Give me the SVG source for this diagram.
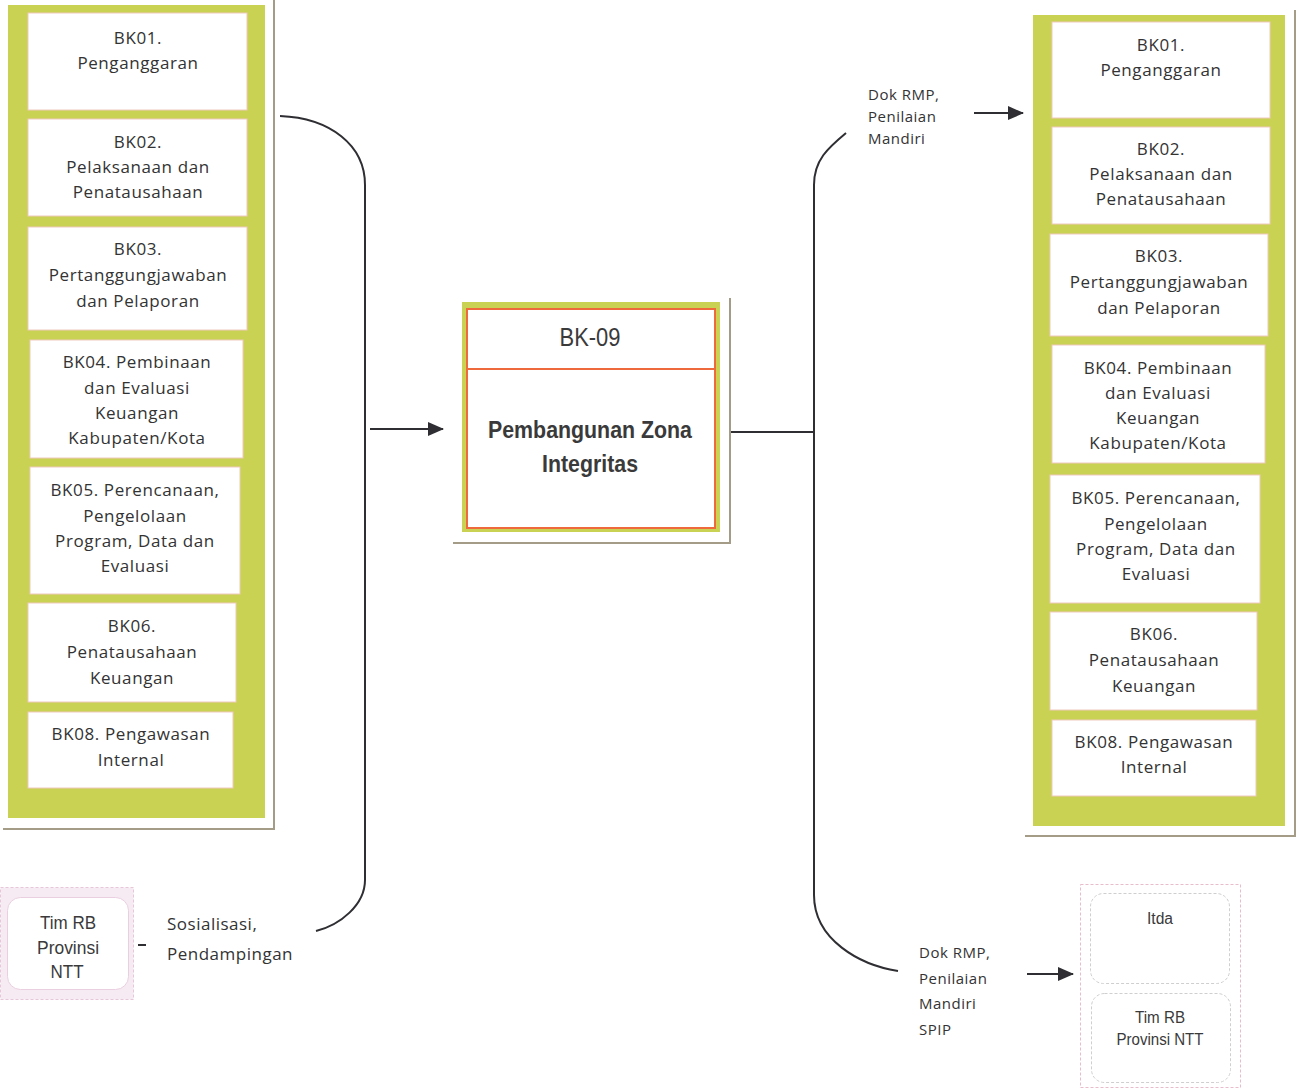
<svg xmlns="http://www.w3.org/2000/svg" width="1299" height="1088" viewBox="0 0 1299 1088">
  <style>
    .panel { fill: #c9d252; }
    .shadow { fill: none; stroke: #a59c88; stroke-width: 2; }
    .item { fill: #ffffff; stroke: #efc9bf; stroke-width: 1; }
    .lbl { font-family: "Open Sans", "Noto Sans", sans-serif; font-size: 17px; letter-spacing: 0.6px; fill: #333333; text-anchor: middle; }
    .note { font-family: "Open Sans", "Noto Sans", sans-serif; font-size: 15px; letter-spacing: 0.5px; fill: #333333; }
    .note2 { font-family: "Open Sans", "Noto Sans", sans-serif; font-size: 17px; letter-spacing: 0.5px; fill: #333333; }
    .narrow { font-family: "Liberation Sans Narrow", "Liberation Sans", Arial, sans-serif; fill: #3a3a3a; text-anchor: middle; }
    .conn { fill: none; stroke: #2e2e33; stroke-width: 2; }
  </style>
  <defs>
    <marker id="arrowL" viewBox="0 0 16 14" refX="15" refY="7" markerWidth="16" markerHeight="14" markerUnits="userSpaceOnUse" orient="auto">
      <path d="M0,0 L16,7 L0,14 z" fill="#2e2e33"/>
    </marker>
  </defs>

  <rect width="1299" height="1088" fill="#ffffff"/>

  <!-- Left column of work units -->
  <g id="left-panel">
    <polyline class="shadow" points="274,0 274,829 3,829"/>
    <rect class="panel" x="8" y="5" width="257" height="813"/>
    <g id="l-bk01">
      <rect class="item" x="28" y="13" width="219" height="97"/>
      <text class="lbl" x="138" y="44">BK01.</text>
      <text class="lbl" x="138" y="69">Penganggaran</text>
    </g>
    <g id="l-bk02">
      <rect class="item" x="28" y="119" width="219" height="97"/>
      <text class="lbl" x="138" y="148">BK02.</text>
      <text class="lbl" x="138" y="173">Pelaksanaan dan</text>
      <text class="lbl" x="138" y="198">Penatausahaan</text>
    </g>
    <g id="l-bk03">
      <rect class="item" x="28" y="227" width="219" height="103"/>
      <text class="lbl" x="138" y="255">BK03.</text>
      <text class="lbl" x="138" y="281">Pertanggungjawaban</text>
      <text class="lbl" x="138" y="307">dan Pelaporan</text>
    </g>
    <g id="l-bk04">
      <rect class="item" x="30" y="340" width="213" height="118"/>
      <text class="lbl" x="137" y="368">BK04. Pembinaan</text>
      <text class="lbl" x="137" y="394">dan Evaluasi</text>
      <text class="lbl" x="137" y="419">Keuangan</text>
      <text class="lbl" x="137" y="444">Kabupaten/Kota</text>
    </g>
    <g id="l-bk05">
      <rect class="item" x="30" y="467" width="210" height="127"/>
      <text class="lbl" x="135" y="496">BK05. Perencanaan,</text>
      <text class="lbl" x="135" y="522">Pengelolaan</text>
      <text class="lbl" x="135" y="547">Program, Data dan</text>
      <text class="lbl" x="135" y="572">Evaluasi</text>
    </g>
    <g id="l-bk06">
      <rect class="item" x="28" y="603" width="208" height="99"/>
      <text class="lbl" x="132" y="632">BK06.</text>
      <text class="lbl" x="132" y="658">Penatausahaan</text>
      <text class="lbl" x="132" y="684">Keuangan</text>
    </g>
    <g id="l-bk08">
      <rect class="item" x="28" y="712" width="205" height="76"/>
      <text class="lbl" x="131" y="740">BK08. Pengawasan</text>
      <text class="lbl" x="131" y="766">Internal</text>
    </g>
  </g>

  <!-- Central activity -->
  <g id="bk09">
    <polyline class="shadow" points="730,298 730,543 453,543"/>
    <rect class="panel" x="462" y="302" width="258" height="230"/>
    <rect x="467" y="309" width="248" height="219" fill="#ffffff" stroke="#ee6a3c" stroke-width="2"/>
    <line x1="467" y1="369" x2="715" y2="369" stroke="#ee6a3c" stroke-width="2"/>
    <text class="narrow" x="590" y="346" font-size="25" textLength="61" lengthAdjust="spacingAndGlyphs">BK-09</text>
    <text class="narrow" x="590" y="438" font-size="24" font-weight="bold" fill="#2e2e2e" textLength="204" lengthAdjust="spacingAndGlyphs">Pembangunan Zona</text>
    <text class="narrow" x="590" y="472" font-size="24" font-weight="bold" fill="#2e2e2e" textLength="96" lengthAdjust="spacingAndGlyphs">Integritas</text>
  </g>

  <!-- Right column of work units -->
  <g id="right-panel">
    <polyline class="shadow" points="1295,10 1295,836 1025,836"/>
    <rect class="panel" x="1033" y="15" width="252" height="811"/>
    <g id="r-bk01">
      <rect class="item" x="1052" y="22" width="218" height="96"/>
      <text class="lbl" x="1161" y="51">BK01.</text>
      <text class="lbl" x="1161" y="76">Penganggaran</text>
    </g>
    <g id="r-bk02">
      <rect class="item" x="1052" y="127" width="218" height="97"/>
      <text class="lbl" x="1161" y="155">BK02.</text>
      <text class="lbl" x="1161" y="180">Pelaksanaan dan</text>
      <text class="lbl" x="1161" y="205">Penatausahaan</text>
    </g>
    <g id="r-bk03">
      <rect class="item" x="1050" y="234" width="218" height="102"/>
      <text class="lbl" x="1159" y="262">BK03.</text>
      <text class="lbl" x="1159" y="288">Pertanggungjawaban</text>
      <text class="lbl" x="1159" y="314">dan Pelaporan</text>
    </g>
    <g id="r-bk04">
      <rect class="item" x="1052" y="345" width="213" height="118"/>
      <text class="lbl" x="1158" y="374">BK04. Pembinaan</text>
      <text class="lbl" x="1158" y="399">dan Evaluasi</text>
      <text class="lbl" x="1158" y="424">Keuangan</text>
      <text class="lbl" x="1158" y="449">Kabupaten/Kota</text>
    </g>
    <g id="r-bk05">
      <rect class="item" x="1050" y="475" width="210" height="128"/>
      <text class="lbl" x="1156" y="504">BK05. Perencanaan,</text>
      <text class="lbl" x="1156" y="530">Pengelolaan</text>
      <text class="lbl" x="1156" y="555">Program, Data dan</text>
      <text class="lbl" x="1156" y="580">Evaluasi</text>
    </g>
    <g id="r-bk06">
      <rect class="item" x="1050" y="612" width="207" height="98"/>
      <text class="lbl" x="1154" y="640">BK06.</text>
      <text class="lbl" x="1154" y="666">Penatausahaan</text>
      <text class="lbl" x="1154" y="692">Keuangan</text>
    </g>
    <g id="r-bk08">
      <rect class="item" x="1052" y="720" width="204" height="76"/>
      <text class="lbl" x="1154" y="748">BK08. Pengawasan</text>
      <text class="lbl" x="1154" y="773">Internal</text>
    </g>
  </g>

  <!-- Provincial RB team (source) -->
  <g id="tim-rb-left">
    <rect x="0.5" y="887.5" width="133" height="112" fill="#f6ebf2" stroke="#e6c6d8" stroke-width="1" stroke-dasharray="3 2"/>
    <rect x="7.5" y="897.5" width="121" height="92" rx="13" fill="#ffffff" stroke="#eacfe0" stroke-width="1"/>
    <text class="narrow" x="68" y="929" font-size="19" textLength="56" lengthAdjust="spacingAndGlyphs">Tim RB</text>
    <text class="narrow" x="68" y="954" font-size="19" textLength="62" lengthAdjust="spacingAndGlyphs">Provinsi</text>
    <text class="narrow" x="67" y="978" font-size="19" textLength="33" lengthAdjust="spacingAndGlyphs">NTT</text>
  </g>

  <!-- Recipients of the review documents -->
  <g id="reviewers">
    <rect x="1080.5" y="884.5" width="160" height="203" fill="#ffffff" stroke="#e9bccd" stroke-width="1" stroke-dasharray="3 2"/>
    <g id="itda">
      <rect x="1090.5" y="893.5" width="139" height="90" rx="13" fill="#ffffff" stroke="#cfcfcf" stroke-width="1" stroke-dasharray="3 2"/>
      <text class="narrow" x="1160" y="924" font-size="16" textLength="26" lengthAdjust="spacingAndGlyphs">Itda</text>
    </g>
    <g id="tim-rb-right">
      <rect x="1091.5" y="993.5" width="139" height="89" rx="13" fill="#ffffff" stroke="#cfcfcf" stroke-width="1" stroke-dasharray="3 2"/>
      <text class="narrow" x="1160" y="1023" font-size="16" textLength="50" lengthAdjust="spacingAndGlyphs">Tim RB</text>
      <text class="narrow" x="1160" y="1045" font-size="16" textLength="87" lengthAdjust="spacingAndGlyphs">Provinsi NTT</text>
    </g>
  </g>

  <!-- Connectors and their labels -->
  <g id="connectors">
    <path class="conn" d="M280,116 C330,118 365,145 365,185 L365,880 C365,905 340,925 316,931"/>
    <line class="conn" x1="370" y1="429" x2="443" y2="429" marker-end="url(#arrowL)"/>
    <line class="conn" x1="731" y1="432" x2="814" y2="432"/>
    <path class="conn" d="M846,133 C828,148 814,160 814,185 L814,895 C814,940 860,965 898,971"/>
    <line class="conn" x1="974" y1="113" x2="1023" y2="113" marker-end="url(#arrowL)"/>
    <line class="conn" x1="1027" y1="974" x2="1073" y2="974" marker-end="url(#arrowL)"/>
    <line x1="138" y1="945" x2="146" y2="945" stroke="#2e2e33" stroke-width="2"/>
    <text class="note" x="868" y="100">Dok RMP,</text>
    <text class="note" x="868" y="122">Penilaian</text>
    <text class="note" x="868" y="144">Mandiri</text>
    <text class="note" x="919" y="958">Dok RMP,</text>
    <text class="note" x="919" y="984">Penilaian</text>
    <text class="note" x="919" y="1009">Mandiri</text>
    <text class="note" x="919" y="1035">SPIP</text>
    <text class="note2" x="167" y="930">Sosialisasi,</text>
    <text class="note2" x="167" y="960">Pendampingan</text>
  </g>
</svg>
